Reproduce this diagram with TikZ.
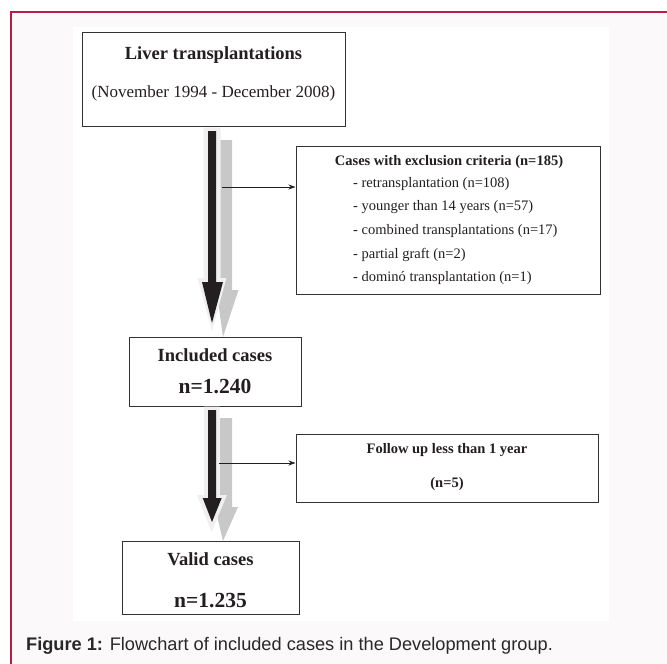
\documentclass[tikz,border=0pt]{standalone}
\usepackage{fontspec}
\setmainfont{Liberation Serif}
\newfontfamily\capfont{Liberation Sans}
\usetikzlibrary{arrows.meta}
\definecolor{framered}{RGB}{185,28,68}
\definecolor{panelbg}{RGB}{251,249,250}
\definecolor{boxline}{RGB}{50,50,50}
\definecolor{arrowblack}{RGB}{35,31,32}
\definecolor{arrowgray}{RGB}{200,200,200}
\definecolor{arrowhalo}{RGB}{240,240,240}
\definecolor{textdark}{RGB}{35,31,32}
\definecolor{captext}{RGB}{40,40,40}
\begin{document}
\begin{tikzpicture}[x=1pt,y=-1pt,
  box/.style={draw=boxline, line width=1pt, fill=white, inner sep=0pt},
  txt/.style={inner sep=0pt, text=textdark},
  bigb/.style={txt, font=\bfseries\fontsize{18.5}{22}\selectfont},
  hugeb/.style={txt, font=\bfseries\fontsize{21.5}{26}\selectfont},
  smallb/.style={txt, font=\bfseries\fontsize{14.5}{17}\selectfont},
  smallr/.style={txt, font=\fontsize{14.5}{17}\selectfont},
  midr/.style={txt, font=\fontsize{17}{20}\selectfont},
  thinarrow/.style={draw=arrowblack, line width=0.8pt, -{Stealth[length=7pt,width=5pt]}},
  fatblack/.style={fill=arrowblack},
  fatgray/.style={fill=arrowgray},
  fathalo/.style={fill=arrowhalo}]
\useasboundingbox (0,0) rectangle (667,664);
% background panels
\fill[white] (0,0) rectangle (667,664);
\fill[panelbg] (11,12) rectangle (667,664);
\draw[framered, line width=1.3pt] (11,664) -- (11,12) -- (667,12);
\fill[white] (73,27) rectangle (609,621);

% boxes
\node[box, minimum width=263pt, minimum height=94pt] (b1) at (213.5,79) {};
\node[box, minimum width=304pt, minimum height=148pt] (b2) at (448,220) {};
\node[box, minimum width=172pt, minimum height=69pt] (b3) at (215,371.5) {};
\node[box, minimum width=302pt, minimum height=68pt] (b4) at (447,468) {};
\node[box, minimum width=177pt, minimum height=73pt] (b5) at (210.5,577.5) {};

% fat arrow 1
\fill[fatgray] (220,140) -- (232,140) -- (232,290) -- (238.5,290) -- (223,337) -- (216.5,290) -- (220,290) -- cycle;
\fill[fathalo] (203.5,127.5) -- (220.5,127.5) -- (220.5,278) -- (226.5,278) -- (212,331) -- (197.5,278) -- (203.5,278) -- cycle;
\fill[fatblack] (208,131) -- (216,131) -- (216,282) -- (223,282) -- (212,323) -- (202,282) -- (208,282) -- cycle;

% fat arrow 2
\fill[fatgray] (220,418) -- (232,418) -- (232,507) -- (238,507) -- (223,541) -- (215,507) -- (220,507) -- cycle;
\fill[fathalo] (204,406.5) -- (219.5,406.5) -- (219.5,495) -- (227,495) -- (211.5,532) -- (197,495) -- (204,495) -- cycle;
\fill[fatblack] (208,410) -- (216,410) -- (216,498) -- (221.7,498) -- (212,522) -- (202.7,498) -- (208,498) -- cycle;

% thin arrows
\coordinate (s1) at (222,187);
\coordinate (s2) at (219,463);
\draw[thinarrow] (s1) -- (s1 -| b2.west);
\draw[thinarrow] (s2) -- (s2 -| b4.west);

% texts
\node[bigb] (t1a) at (213.5,55) {Liver transplantations};
\node[midr] (t1b) at (213.5,93) {(November 1994 - December 2008)};

\node[smallb] (t2a) at (449,162) {Cases with exclusion criteria (n=185)};
\node[smallr, anchor=west] (t2b) at (353,184) {- retransplantation (n=108)};
\node[smallr, anchor=west] (t2c) at (353,207.5) {- younger than 14 years (n=57)};
\node[smallr, anchor=west] (t2d) at (353,231) {- combined transplantations (n=17)};
\node[smallr, anchor=west] (t2e) at (353,254.5) {- partial graft (n=2)};
\node[smallr, anchor=west] (t2f) at (353,278) {- dominó transplantation (n=1)};

\node[bigb] (t3a) at (215,355) {Included cases};
\node[hugeb] (t3b) at (215,386.5) {n=1.240};

\node[smallb] (t4a) at (447,450) {Follow up less than 1 year};
\node[smallb] (t4b) at (447,484) {(n=5)};

\node[bigb] (t5a) at (210.5,559) {Valid cases};
\node[hugeb] (t5b) at (210.5,601) {n=1.235};

% caption
\node[anchor=west, inner sep=0pt, text=captext, font=\capfont\fontsize{18.2}{22}\selectfont] (cap) at (26,646) {\textbf{Figure 1:} Flowchart of included cases in the Development group.};
\end{tikzpicture}
\end{document}
